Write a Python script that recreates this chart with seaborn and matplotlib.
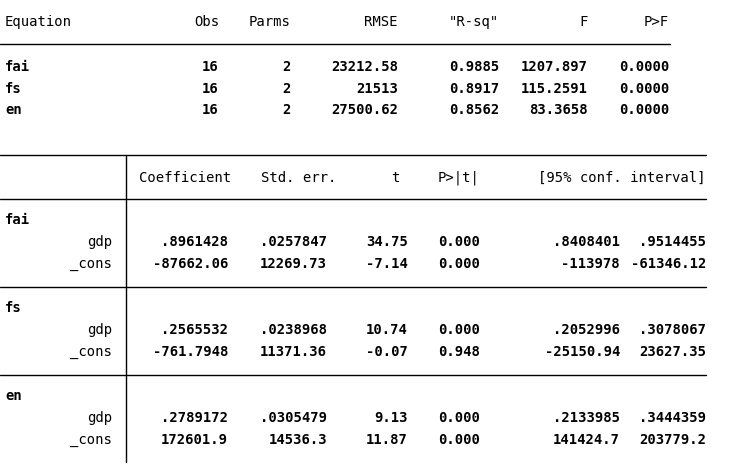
import matplotlib
matplotlib.use("Agg")
import matplotlib.pyplot as plt
import seaborn as sns

sns.set_theme(style="white")
plt.rcParams['font.family'] = ['DejaVu Sans Mono']

eq_names = ["fai", "fs", "en"]
obs = ["16", "16", "16"]
parms = ["2", "2", "2"]
rmse = ["23212.58", "21513", "27500.62"]
rsq = ["0.9885", "0.8917", "0.8562"]
fval = ["1207.897", "115.2591", "83.3658"]
pf = ["0.0000", "0.0000", "0.0000"]

vars_ = ["gdp", "_cons"]
coef = [[".8961428", "-87662.06"], [".2565532", "-761.7948"], [".2789172", "172601.9"]]
se = [[".0257847", "12269.73"], [".0238968", "11371.36"], [".0305479", "14536.3"]]
tval = [["34.75", "-7.14"], ["10.74", "-0.07"], ["9.13", "11.87"]]
pval = [["0.000", "0.000"], ["0.000", "0.948"], ["0.000", "0.000"]]
cilo = [[".8408401", "-113978"], [".2052996", "-25150.94"], [".2133985", "141424.7"]]
cihi = [[".9514455", "-61346.12"], [".3078067", "23627.35"], [".3444359", "203779.2"]]

W, H = 735, 472
fig = plt.figure(figsize=(7.35, 4.72), dpi=100)
ax = fig.add_axes([0, 0, 1, 1])
ax.set_xlim(0, W); ax.set_ylim(H, 0); ax.axis("off")
fs_ = 10

def t(x, y, s, ha="right", bold=False):
    ax.text(x, y, s, ha=ha, va="center", fontsize=fs_, fontweight="bold" if bold else "normal", color="black")

def hl(y, x0, x1):
    ax.plot([x0, x1], [y, y], color="black", lw=1)

# top table
t(5, 22, "Equation", ha="left")
for x, s in zip([219, 291, 398, 499, 588, 669], ["Obs", "Parms", "RMSE", '"R-sq"', "F", "P>F"]):
    t(x, 22, s)
hl(44, 0, 670)
for i, y in enumerate([67, 89, 110]):
    t(5, y, eq_names[i], ha="left", bold=True)
    for x, s in zip([219, 291, 398, 499, 588, 669], [obs[i], parms[i], rmse[i], rsq[i], fval[i], pf[i]]):
        t(x, y, s, bold=True)

# bottom table
hl(155, 0, 706)
ax.plot([126, 126], [155, 462], color="black", lw=1)
t(139, 178, "Coefficient", ha="left")
for x, s in zip([336, 400, 480, 706], ["Std. err.", "t", "P>|t|", "[95% conf. interval]"]):
    t(x, 178, s)
hl(199, 0, 706)
cols = [228, 327, 408, 480, 620, 706]
bases = [220, 308, 396]
for i, b in enumerate(bases):
    t(5, b, eq_names[i], ha="left", bold=True)
    for j, v in enumerate(vars_):
        y = b + 22 * (j + 1)
        t(112, y, v)
        for x, s in zip(cols, [coef[i][j], se[i][j], tval[i][j], pval[i][j], cilo[i][j], cihi[i][j]]):
            t(x, y, s, bold=True)
    if i < 2:
        hl(b + 67, 0, 706)

fig.savefig("out.png", dpi=100)
